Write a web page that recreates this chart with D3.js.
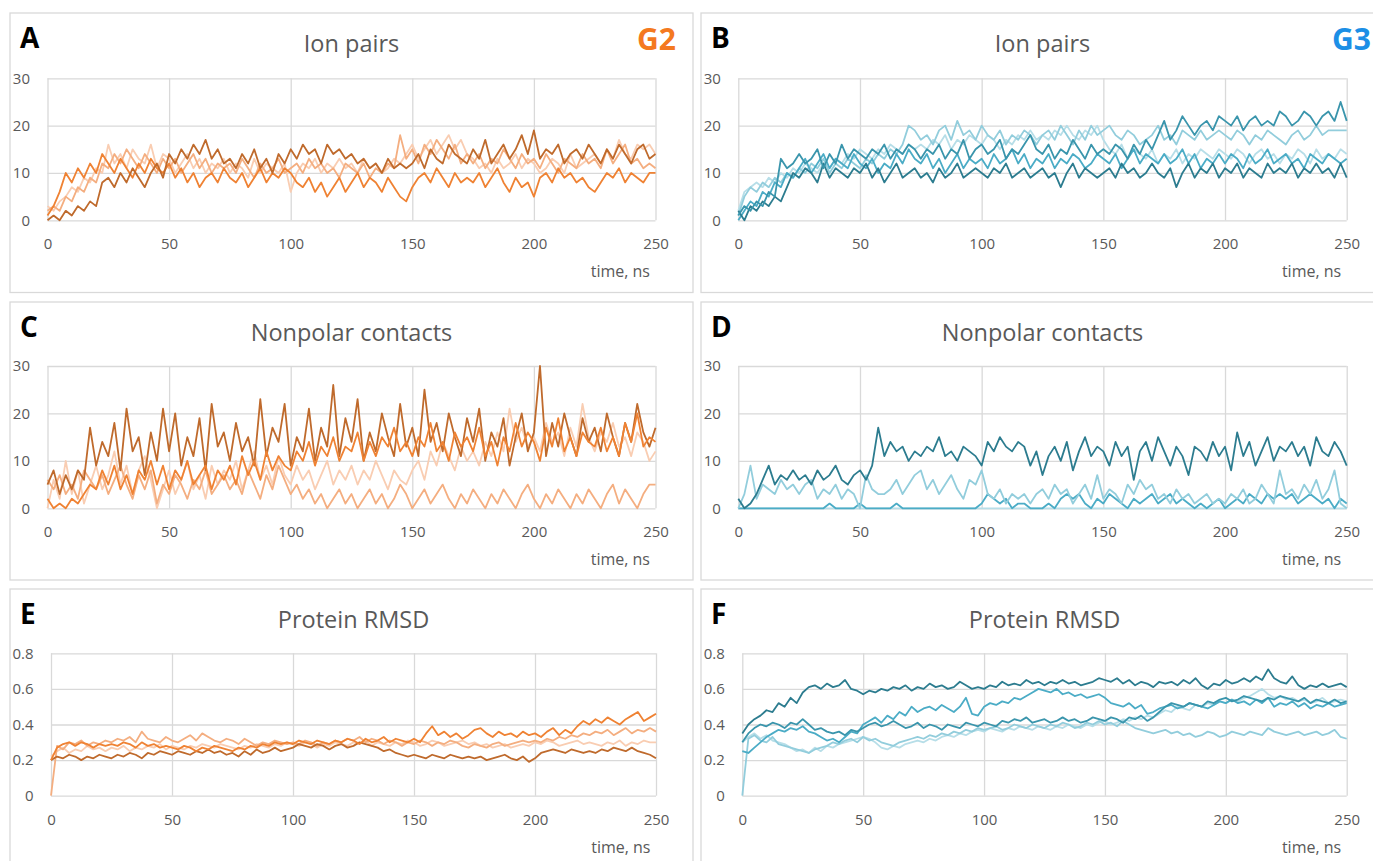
<!DOCTYPE html>
<html><head><meta charset="utf-8">
<script src="https://cdn.jsdelivr.net/npm/d3@7"></script>
<style>
html,body{margin:0;padding:0;background:#fff;}
svg{display:block;font-family:"Open Sans",sans-serif;}
</style></head><body>
<svg id="chart" width="1373" height="861"></svg>
<script>
// ---------------- DATA (sampled every 2.5 ns, 0..250 ns) ----------------
const timeStep = 2.5;
const timeTicks = [0, 50, 100, 150, 200, 250];
const countTicks = [0, 10, 20, 30];
const rmsdTicks = [0, 0.2, 0.4, 0.6, 0.8];
const panelLetters = ["A", "B", "C", "D", "E", "F"];
const panelTitles = ["Ion pairs", "Ion pairs", "Nonpolar contacts", "Nonpolar contacts", "Protein RMSD", "Protein RMSD"];
const groupLabels = ["G2", "G3"];
const xAxisLabel = "time, ns";

// A: G2 ion pairs
const ionG2_1 = [0,1,0,2,1,3,2,4,3,8,
 9,7,10,8,11,9,7,10,12,9,
 14,12,15,13,16,14,17,13,15,12,
 13,11,14,12,15,11,13,10,14,12,
 15,13,16,14,15,12,16,14,15,13,
 14,12,13,11,12,10,13,11,12,11,
 12,14,11,15,13,12,16,14,13,12,
 15,13,17,12,14,16,13,15,18,14,
 19,13,15,14,16,12,14,15,13,16,
 14,12,15,13,16,14,12,15,16,13,
 14];
const ionG2_2 = [1,3,6,10,8,11,9,12,10,14,
 12,10,13,11,9,12,10,13,11,10,
 12,9,11,8,10,7,9,10,8,11,
 9,8,10,7,9,11,8,10,9,11,
 10,8,7,9,6,8,5,7,9,6,
 8,10,7,9,8,6,9,7,5,4,
 7,9,10,8,11,9,7,10,8,9,
 8,10,7,9,11,8,6,9,7,8,
 5,9,10,8,11,9,10,8,9,7,
 6,8,10,9,11,8,10,9,8,10,
 10];
const ionG2_3 = [2,3,2,5,4,7,6,9,8,12,
 11,14,12,15,13,11,14,12,10,13,
 11,13,10,12,14,11,13,10,12,11,
 12,10,13,11,9,12,10,11,13,10,
 11,12,10,13,11,12,10,11,9,12,
 11,10,12,9,11,10,12,11,18,13,
 15,12,16,14,17,15,13,16,12,14,
 12,14,11,13,12,15,13,11,14,12,
 13,11,14,12,10,13,12,11,14,12,
 13,11,15,12,14,16,12,13,11,12,
 11];
const ionG2_4 = [3,2,4,5,7,6,9,8,11,10,
 16,12,14,11,15,13,12,16,11,14,
 13,10,12,14,11,13,10,12,11,13,
 10,12,11,9,13,10,12,11,10,12,
 6,10,12,11,13,10,12,11,13,11,
 12,10,13,11,12,10,11,13,12,14,
 16,13,15,17,14,16,18,15,17,14,
 13,11,12,10,13,11,12,14,11,13,
 12,10,11,13,12,10,14,11,12,13,
 14,12,15,13,17,14,13,16,15,16,
 14];

// B: G3 ion pairs
const ionG3_1 = [2,0,3,2,4,3,5,4,7,10,
 9,11,10,8,12,9,11,10,9,11,
 10,12,9,11,8,10,12,9,10,11,
 9,10,8,11,9,10,12,9,10,11,
 10,9,11,10,12,9,10,11,9,10,
 11,9,10,7,10,12,9,11,10,9,
 10,11,9,12,10,11,9,10,12,10,
 9,11,7,10,12,9,11,10,12,9,
 11,10,12,9,11,10,9,12,10,11,
 10,12,9,11,10,12,10,11,9,12,
 9];
const ionG3_2 = [1,3,2,4,3,6,5,13,11,12,
 14,12,13,15,11,14,12,16,13,15,
 14,13,15,14,16,13,15,14,16,15,
 13,15,14,16,13,15,14,17,13,15,
 16,14,15,17,13,15,14,16,18,15,
 14,16,13,15,14,17,15,13,16,14,
 15,14,16,15,13,16,14,17,15,18,
 21,17,19,22,20,18,20,21,19,22,
 21,20,22,19,21,22,20,21,20,23,
 22,20,21,23,22,20,22,23,21,25,
 21];
const ionG3_3 = [0,2,4,3,6,5,8,7,10,9,
 11,13,10,12,14,11,13,12,11,14,
 12,11,13,10,12,11,14,12,15,13,
 12,14,11,13,10,12,14,11,13,12,
 13,11,14,12,13,15,12,14,11,13,
 12,14,11,13,12,14,13,11,12,14,
 13,12,14,11,13,15,12,14,13,12,
 14,12,13,15,12,14,11,13,12,14,
 12,14,13,11,14,12,13,15,12,13,
 14,12,13,11,14,13,12,14,13,12,
 13];
const ionG3_4 = [1,5,7,6,8,7,9,8,10,9,
 11,10,12,11,13,10,12,11,13,12,
 11,13,12,14,13,15,14,16,20,19,
 17,18,16,19,20,17,21,18,19,17,
 20,18,17,19,16,18,17,19,18,16,
 18,19,17,20,18,16,19,17,20,18,
 19,20,18,17,19,18,16,17,18,20,
 17,18,16,19,18,17,19,17,18,19,
 18,17,19,18,16,18,17,19,18,17,
 16,18,19,17,18,20,18,19,19,19,
 19];
const ionG3_5 = [2,6,7,8,7,9,8,10,9,11,
 10,12,11,10,12,11,13,12,14,13,
 15,14,13,15,14,16,15,14,16,15,
 16,15,17,16,18,15,17,16,18,17,
 16,18,17,15,17,16,18,17,19,17,
 18,17,19,18,20,18,17,19,18,20,
 17,15,14,16,13,15,14,13,15,12,
 14,13,15,12,14,13,15,14,13,15,
 14,13,15,14,12,14,15,13,14,12,
 14,13,15,14,12,15,13,14,13,15,
 14];

// C: G2 nonpolar contacts
const npG2_1 = [5,8,3,7,4,8,6,17,9,14,
 11,18,8,21,12,15,7,16,10,21,
 12,20,9,15,11,19,8,22,13,16,
 10,18,12,15,9,23,11,17,14,22,
 9,15,12,21,10,17,13,26,11,19,
 14,23,10,16,12,20,15,11,22,13,
 17,11,25,14,18,12,20,15,11,19,
 14,21,10,16,13,19,9,15,20,12,
 16,30,11,18,13,20,15,11,19,14,
 17,12,20,15,11,18,14,22,16,13,
 17];
const npG2_2 = [2,0,1,0,2,1,3,5,4,8,
 5,9,4,7,3,8,6,10,5,9,
 4,8,6,10,5,7,9,4,8,6,
 9,5,11,7,10,6,12,8,11,9,
 8,12,10,14,9,13,11,15,10,13,
 12,16,10,14,11,15,13,17,12,14,
 11,15,13,18,12,14,10,16,13,15,
 12,17,11,14,9,15,12,18,13,16,
 14,10,17,13,19,12,15,11,16,14,
 13,17,12,15,11,18,14,20,13,15,
 14];
const npG2_3 = [6,4,7,3,5,2,8,6,4,7,
 3,6,9,5,2,7,4,8,1,5,
 3,7,5,2,6,4,8,3,5,7,
 4,6,3,8,5,2,7,4,9,6,
 3,5,2,4,1,3,0,2,4,1,
 3,0,2,4,1,3,0,2,5,3,
 0,2,4,1,3,5,2,0,3,1,
 4,2,0,3,1,4,2,0,3,5,
 2,0,3,1,4,2,0,3,1,4,
 2,0,3,5,1,4,2,0,3,5,
 5];
const npG2_4 = [0,6,2,10,3,8,1,5,9,4,
 7,12,5,9,3,8,11,6,0,4,
 8,3,6,10,4,7,2,9,5,8,
 6,10,4,8,12,6,9,5,11,7,
 5,9,6,8,4,7,10,5,8,6,
 9,5,8,6,10,7,4,8,6,5,
 8,10,6,12,9,14,11,8,13,10,
 12,9,14,11,16,12,21,14,17,13,
 15,12,18,14,16,11,17,13,22,15,
 12,16,14,18,13,15,11,16,14,10,
 12];

// D: G3 nonpolar contacts
const npG3_1 = [2,0,1,3,6,9,5,7,6,8,
 6,7,5,8,6,7,9,6,5,7,
 8,6,9,17,11,14,12,13,10,12,
 11,13,12,15,11,12,10,13,12,11,
 9,14,12,15,13,12,14,13,9,12,
 7,11,13,10,14,8,12,15,11,13,
 12,9,14,11,13,6,12,14,10,15,
 12,9,13,11,7,13,12,10,14,11,
 13,8,16,11,14,9,12,15,10,13,
 12,14,11,13,9,15,12,11,14,12,
 9];
const npG3_2 = [0,3,9,2,5,4,3,6,4,5,
 3,5,6,2,4,3,5,2,4,3,
 0,7,4,3,3,4,6,3,5,7,
 8,4,6,3,5,7,4,2,6,5,
 8,3,2,4,1,3,2,3,1,3,
 4,2,5,3,4,1,3,5,2,7,
 2,4,3,1,5,3,6,4,5,2,
 3,1,4,2,3,1,2,3,1,2,
 1,3,2,4,1,2,5,3,1,8,
 3,4,2,5,3,6,2,4,8,1,
 0];
const npG3_3 = [0,0,0,0,0,0,0,0,0,0,
 0,0,0,0,0,1,0,0,0,0,
 1,0,0,0,0,0,1,0,0,0,
 0,0,0,0,0,0,0,0,0,0,
 1,3,2,1,2,0,1,1,0,0,
 0,1,0,2,3,2,3,1,0,2,
 1,3,2,1,0,2,1,2,3,1,
 2,3,1,2,1,0,1,0,1,2,
 0,1,2,1,3,2,1,3,2,3,
 2,3,1,2,3,2,1,2,0,2,
 1];
const npG3_4 = [0,0,0,0,0,0,0,0,0,0,
 0,0,0,0,0,0,0,0,0,0,
 0,0,0,0,0,0,0,0,0,0,
 0,0,0,0,0,0,0,0,0,0,
 0,0,0,0,0,0,0,0,0,0,
 0,0,0,0,0,0,0,0,0,0,
 0,0,0,0,0,0,0,0,0,0,
 0,0,0,0,0,0,0,0,0,0,
 0,0,0,0,0,0,0,0,0,0,
 0,0,0,0,0,0,0,0,0,0,
 0];

// E: G2 protein RMSD
const rmsdG2_1 = [.20,.22,.21,.23,.22,.20,.22,.21,.23,.22,
 .21,.23,.22,.24,.23,.21,.24,.23,.25,.24,
 .23,.25,.24,.23,.25,.24,.26,.24,.25,.23,
 .24,.22,.25,.23,.26,.24,.25,.27,.25,.26,
 .27,.29,.28,.27,.29,.28,.26,.28,.29,.27,
 .28,.30,.29,.28,.27,.25,.26,.24,.23,.22,
 .23,.22,.21,.23,.22,.21,.23,.22,.21,.22,
 .21,.22,.20,.21,.22,.23,.21,.20,.22,.19,
 .21,.24,.25,.26,.25,.24,.26,.25,.24,.25,
 .24,.26,.25,.27,.26,.25,.27,.25,.24,.23,
 .21];
const rmsdG2_2 = [.20,.27,.29,.30,.28,.30,.29,.27,.29,.28,
 .29,.28,.30,.29,.27,.30,.28,.29,.27,.28,
 .27,.26,.28,.27,.25,.27,.26,.28,.27,.26,
 .25,.27,.26,.28,.27,.29,.28,.30,.29,.30,
 .29,.31,.30,.29,.31,.30,.29,.31,.30,.32,
 .31,.29,.32,.30,.31,.33,.30,.32,.31,.30,
 .32,.30,.35,.39,.34,.36,.33,.35,.32,.34,
 .37,.38,.35,.33,.36,.34,.35,.33,.36,.34,
 .35,.33,.36,.38,.34,.37,.35,.39,.42,.40,
 .43,.41,.44,.42,.40,.43,.45,.47,.42,.44,
 .46];
const rmsdG2_3 = [0,.28,.26,.30,.29,.31,.28,.30,.29,.31,
 .30,.32,.31,.33,.30,.36,.32,.31,.30,.33,
 .31,.30,.32,.34,.31,.35,.33,.31,.30,.32,
 .31,.29,.32,.30,.28,.30,.29,.31,.30,.29,
 .30,.29,.31,.30,.28,.30,.29,.31,.30,.32,
 .31,.33,.30,.32,.31,.29,.31,.30,.28,.30,
 .29,.31,.30,.28,.30,.29,.31,.30,.28,.27,
 .29,.28,.27,.29,.30,.28,.29,.30,.31,.30,
 .31,.30,.32,.31,.33,.32,.34,.33,.35,.34,
 .36,.35,.37,.34,.36,.38,.35,.37,.36,.38,
 .36];
const rmsdG2_4 = [.22,.25,.27,.24,.26,.25,.28,.26,.27,.25,
 .27,.26,.28,.25,.27,.26,.28,.27,.29,.26,
 .28,.27,.26,.28,.27,.29,.28,.27,.29,.28,
 .27,.26,.28,.27,.29,.28,.27,.29,.28,.30,
 .29,.28,.30,.29,.27,.29,.28,.30,.29,.28,
 .30,.29,.31,.28,.30,.29,.28,.30,.29,.31,
 .30,.28,.29,.31,.30,.28,.29,.30,.31,.29,
 .30,.28,.29,.27,.28,.29,.27,.28,.29,.28,
 .30,.29,.31,.30,.28,.29,.30,.31,.29,.30,
 .29,.28,.30,.29,.31,.28,.30,.29,.31,.30,
 .30];

// F: G3 protein RMSD
const rmsdG3_1 = [.35,.40,.43,.45,.48,.47,.52,.50,.55,.52,
 .58,.61,.62,.60,.63,.61,.62,.65,.60,.59,
 .57,.59,.58,.60,.59,.61,.60,.62,.59,.61,
 .60,.63,.61,.62,.60,.61,.64,.62,.60,.61,
 .60,.62,.61,.64,.62,.63,.62,.65,.63,.64,
 .62,.64,.63,.65,.63,.64,.62,.63,.64,.66,
 .65,.64,.66,.63,.65,.62,.64,.63,.61,.64,
 .63,.64,.62,.65,.63,.66,.62,.60,.63,.62,
 .65,.63,.64,.66,.64,.67,.65,.71,.66,.64,
 .63,.67,.62,.60,.62,.61,.63,.61,.62,.63,
 .61];
const rmsdG3_2 = [.30,.35,.38,.40,.39,.41,.40,.38,.41,.40,
 .43,.40,.37,.38,.36,.35,.36,.34,.37,.36,
 .38,.40,.41,.39,.40,.42,.40,.38,.39,.41,
 .38,.40,.39,.37,.40,.39,.38,.41,.40,.39,
 .41,.40,.39,.42,.41,.43,.42,.44,.41,.42,
 .43,.41,.42,.44,.42,.43,.41,.42,.44,.43,
 .42,.44,.43,.41,.44,.43,.45,.42,.44,.47,
 .50,.52,.51,.50,.52,.51,.50,.53,.52,.54,
 .55,.53,.54,.56,.55,.54,.53,.55,.54,.56,
 .55,.54,.53,.55,.52,.54,.53,.52,.54,.52,
 .53];
const rmsdG3_3 = [.25,.24,.27,.30,.33,.35,.37,.36,.38,.37,
 .39,.36,.35,.33,.31,.32,.30,.33,.36,.35,
 .40,.42,.44,.41,.45,.43,.47,.45,.50,.47,
 .49,.50,.48,.51,.49,.47,.50,.55,.46,.45,
 .50,.52,.51,.53,.52,.55,.54,.56,.58,.60,
 .59,.58,.60,.57,.58,.56,.57,.55,.56,.57,
 .55,.52,.51,.50,.52,.49,.51,.46,.47,.49,
 .50,.51,.49,.50,.52,.51,.50,.49,.51,.53,
 .52,.54,.52,.53,.51,.54,.52,.55,.50,.52,
 .51,.53,.50,.52,.49,.51,.50,.52,.50,.51,
 .52];
const rmsdG3_4 = [0,.32,.34,.31,.30,.33,.29,.28,.27,.26,
 .25,.24,.26,.27,.28,.30,.29,.31,.32,.30,
 .33,.31,.32,.30,.29,.28,.30,.31,.32,.33,
 .32,.34,.33,.35,.34,.36,.35,.37,.36,.38,
 .37,.38,.39,.37,.38,.40,.39,.38,.40,.39,
 .38,.40,.39,.41,.40,.38,.39,.41,.40,.42,
 .40,.41,.39,.42,.40,.38,.37,.36,.35,.36,
 .37,.35,.36,.34,.35,.33,.34,.36,.35,.33,
 .34,.36,.35,.34,.36,.35,.34,.38,.36,.35,
 .34,.35,.36,.34,.35,.36,.34,.35,.37,.33,
 .32];
const rmsdG3_5 = [.30,.33,.35,.32,.34,.31,.30,.29,.27,.25,
 .26,.24,.27,.25,.28,.27,.29,.30,.31,.32,
 .33,.32,.30,.27,.26,.28,.27,.29,.30,.31,
 .30,.32,.31,.33,.34,.33,.35,.34,.36,.37,
 .36,.38,.37,.36,.38,.37,.39,.38,.37,.39,
 .38,.37,.39,.38,.40,.39,.38,.40,.39,.41,
 .42,.40,.41,.43,.42,.44,.43,.45,.44,.46,
 .48,.47,.50,.49,.48,.51,.50,.52,.51,.53,
 .52,.54,.53,.55,.56,.58,.60,.57,.55,.56,
 .54,.55,.53,.54,.52,.53,.55,.52,.53,.54,
 .53];

// ---------------- STYLE / LAYOUT ----------------
const g2Colors = ["#BF6A2C", "#EF8233", "#F4AE80", "#F9CDB2"];
const g3Colors = ["#2C7C8F", "#3A95AC", "#4BACC6", "#92CDDC", "#B7DEE8"];
const textGray = "#595959";
const gridGray = "#d9d9d9";

const panels = [
  {box:[10,13,693,292.5], plot:[47.5,78.3,655.5,220.3], yMax:30, yTicks:countTicks, series:[ionG2_4, ionG2_3, ionG2_2, ionG2_1], colors:[g2Colors[3],g2Colors[2],g2Colors[1],g2Colors[0]], group:0},
  {box:[701,13,1390,292.5], plot:[738.3,78.3,1346.7,220.3], yMax:30, yTicks:countTicks, series:[ionG3_5, ionG3_4, ionG3_3, ionG3_1, ionG3_2], colors:[g3Colors[4],g3Colors[3],g3Colors[2],g3Colors[0],g3Colors[1]], group:1},
  {box:[10,302,693,580], plot:[47.5,366,655.5,508.3], yMax:30, yTicks:countTicks, series:[npG2_4, npG2_3, npG2_1, npG2_2], colors:[g2Colors[3],g2Colors[2],g2Colors[0],g2Colors[1]]},
  {box:[701,302,1390,580], plot:[738.3,366,1346.7,508.3], yMax:30, yTicks:countTicks, series:[npG3_4, npG3_3, npG3_2, npG3_1], colors:[g3Colors[4],g3Colors[2],g3Colors[3],g3Colors[0]]},
  {box:[10,589,693,880], plot:[51,653.3,656,795.7], yMax:0.8, yTicks:rmsdTicks, series:[rmsdG2_4, rmsdG2_3, rmsdG2_1, rmsdG2_2], colors:[g2Colors[3],g2Colors[2],g2Colors[0],g2Colors[1]]},
  {box:[701,589,1390,880], plot:[742.3,653.3,1346.7,795.7], yMax:0.8, yTicks:rmsdTicks, series:[rmsdG3_5, rmsdG3_4, rmsdG3_3, rmsdG3_2, rmsdG3_1], colors:[g3Colors[4],g3Colors[3],g3Colors[2],g3Colors[1],g3Colors[0]]}
];

const svg = d3.select("#chart");
svg.append("rect").attr("width",1373).attr("height",861).attr("fill","#fff");

panels.forEach((p, pi) => {
  const g = svg.append("g");
  const [bx0, by0, bx1, by1] = p.box;
  const [px0, py0, px1, py1] = p.plot;
  g.append("rect").attr("x", bx0).attr("y", by0).attr("width", bx1 - bx0).attr("height", by1 - by0)
    .attr("fill", "#fff").attr("stroke", gridGray).attr("stroke-width", 1.3);

  const x = d3.scaleLinear().domain([0, 250]).range([px0, px1]);
  const y = d3.scaleLinear().domain([0, p.yMax]).range([py1, py0]);
  const fmt = v => (v === 0 ? "0" : String(+v.toFixed(1)));

  const ya = g.append("g").attr("transform", `translate(${px0},0)`)
    .call(d3.axisLeft(y).tickValues(p.yTicks).tickSize(-(px1 - px0)).tickPadding(17.5).tickFormat(fmt));
  const xa = g.append("g").attr("transform", `translate(0,${py1})`)
    .call(d3.axisBottom(x).tickValues(timeTicks).tickSize(-(py1 - py0)).tickPadding(18.5).tickFormat(d3.format("d")));
  [ya, xa].forEach(a => {
    a.select(".domain").remove();
    a.selectAll("line").attr("stroke", gridGray).attr("stroke-width", 1.3);
    a.selectAll("text").attr("fill", textGray).attr("font-size", 15).attr("font-family", '"Open Sans", sans-serif');
  });

  const line = d3.line().x((d, i) => x(i * timeStep)).y(d => y(d));
  p.series.forEach((s, si) => {
    g.append("path").datum(s).attr("d", line).attr("fill", "none")
      .attr("stroke", p.colors[si]).attr("stroke-width", 1.8).attr("stroke-linejoin", "round");
  });

  g.append("text").attr("x", (px0 + px1) / 2).attr("y", by0 + 38.5).attr("text-anchor", "middle")
    .attr("font-size", 23.5).attr("fill", textGray).text(panelTitles[pi]);
  g.append("text").attr("x", bx0 + 10).attr("y", by0 + 34.5).attr("font-size", 28).attr("font-weight", 700)
    .attr("fill", "#000").text(panelLetters[pi]);
  g.append("text").attr("x", px1 - 5.5).attr("y", py1 + 57).attr("text-anchor", "end")
    .attr("font-size", 16).attr("fill", textGray).text(xAxisLabel);
  if (p.group !== undefined) {
    g.append("text").attr("x", p.group === 0 ? 676 : 1371).attr("y", 50).attr("text-anchor", "end")
      .attr("font-size", 30).attr("font-weight", 700)
      .attr("fill", p.group === 0 ? "#F47920" : "#1C8FE6").text(groupLabels[p.group]);
  }
});
</script>
</body></html>
